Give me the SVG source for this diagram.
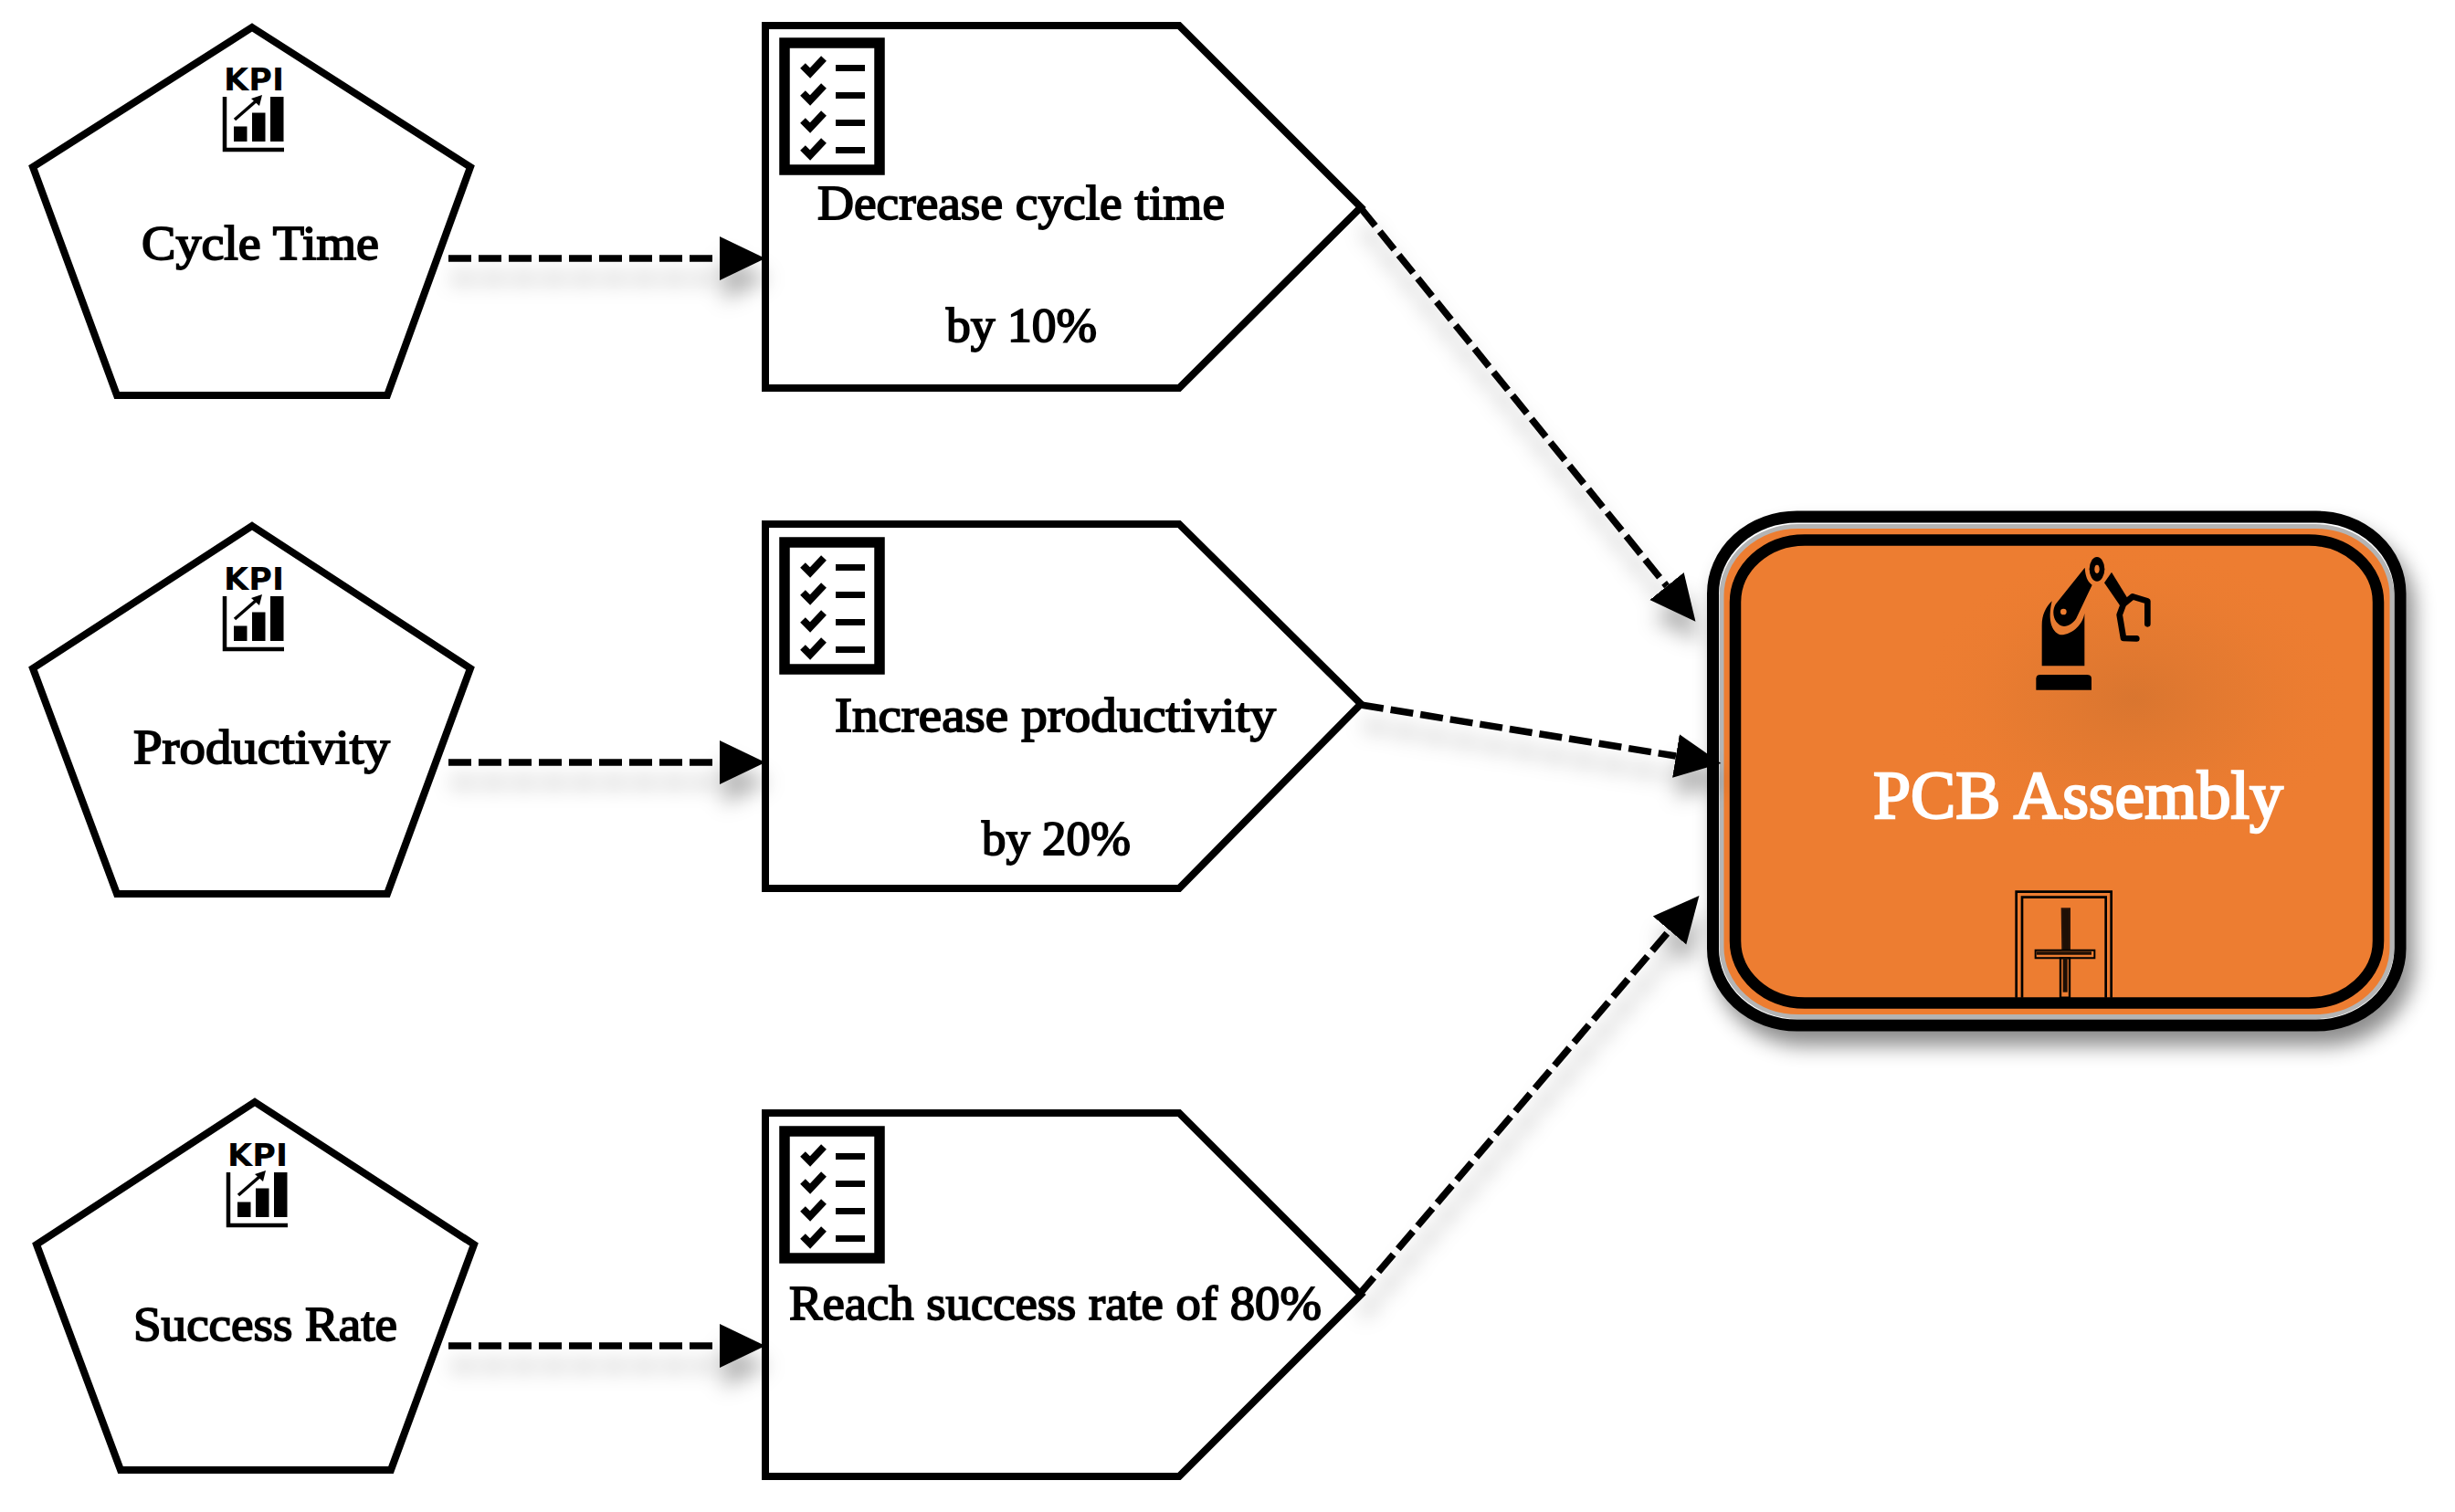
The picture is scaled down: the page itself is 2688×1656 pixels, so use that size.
<svg xmlns="http://www.w3.org/2000/svg" xmlns:xlink="http://www.w3.org/1999/xlink" width="2688" height="1656" viewBox="0 0 2688 1656">
<style>
.shape{fill:#fff;stroke:#000;stroke-width:8;stroke-miterlimit:10}
.lbl{font-family:"Liberation Serif","DejaVu Serif",serif;font-weight:400;font-size:53px;fill:#000;stroke:#000;stroke-width:1.800}
.kpi{font-family:"DejaVu Sans","Liberation Sans",sans-serif;font-weight:700;font-size:33px;fill:#000}
.conn{fill:none;stroke:#000;stroke-width:7.500;stroke-dasharray:25 8;marker-end:url(#head)}
</style>
<defs>
<marker id="head" markerUnits="userSpaceOnUse" markerWidth="52" markerHeight="50" refX="0" refY="25" orient="auto"><path d="M0 1L50 25L0 49Z" fill="#000"/></marker>
<filter id="cs" x="-20%" y="-20%" width="140%" height="140%" filterUnits="objectBoundingBox"><feDropShadow dx="4" dy="22" stdDeviation="11" flood-color="#000" flood-opacity=".3"/></filter>
<filter id="bs" x="-10%" y="-10%" width="120%" height="120%"><feDropShadow dx="9" dy="16" stdDeviation="11" flood-color="#000" flood-opacity=".45"/></filter>
<radialGradient id="glow"><stop offset="0" stop-color="#c96f2e" stop-opacity=".55"/><stop offset=".5" stop-color="#d5752f" stop-opacity=".3"/><stop offset="1" stop-color="#ED7D31" stop-opacity="0"/></radialGradient>
<g id="kpiIcon">
<text class="kpi" x="245" y="98.500" textLength="66" lengthAdjust="spacingAndGlyphs">KPI</text>
<path d="M246 106V164H311" fill="none" stroke="#000" stroke-width="4.500"/>
<path d="M256 138.500h14.500v16.500h-14.500zM276 123.500h14.500v31.500h-14.500zM296 106h14.500v49h-14.500z" fill="#000"/>
<path d="M257 131L281 110" fill="none" stroke="#000" stroke-width="3.500"/>
<path d="M287 104L284 116L275 108Z" fill="#000"/>
</g>
<g id="checkIcon">
<rect x="859" y="47" width="104" height="139" fill="#fff" stroke="#000" stroke-width="11.500"/>
<path d="M879 72l8 8 15-16M879 102l8 8 15-16M879 132l8 8 15-16M879 162l8 8 15-16" fill="none" stroke="#000" stroke-width="8"/>
<path d="M915 74.500h32M915 104.500h32M915 134.500h32M915 164.500h32" fill="none" stroke="#000" stroke-width="7"/>
</g>
</defs>
<rect width="2688" height="1656" fill="#fff"/>
<g id="kpi-cycle-time">
<polygon class="shape" points="276,30 515,183 424,433 128,433 36,183"/>
<use href="#kpiIcon"/>
<text class="lbl" x="155" y="284" textLength="260" lengthAdjust="spacingAndGlyphs">Cycle Time</text>
</g>
<g id="kpi-productivity">
<polygon class="shape" points="276,576 515,732 424,979 128,979 36,732"/>
<use href="#kpiIcon" y="547"/>
<text class="lbl" x="146" y="836" textLength="281" lengthAdjust="spacingAndGlyphs">Productivity</text>
</g>
<g id="kpi-success-rate">
<polygon class="shape" points="279,1207 519,1363 428,1610 132,1610 40,1363"/>
<use href="#kpiIcon" x="4" y="1178"/>
<text class="lbl" x="146" y="1468" textLength="289" lengthAdjust="spacingAndGlyphs">Success Rate</text>
</g>
<g id="goal-cycle-time">
<polygon class="shape" points="838,28 1291,28 1490,227 1291,425 838,425"/>
<use href="#checkIcon"/>
<text class="lbl" x="895" y="240" textLength="446" lengthAdjust="spacingAndGlyphs">Decrease cycle time</text>
<text class="lbl" x="1036" y="374" textLength="165" lengthAdjust="spacingAndGlyphs">by 10%</text>
</g>
<g id="goal-productivity">
<polygon class="shape" points="838,574 1291,574 1490,771 1291,973 838,973"/>
<use href="#checkIcon" y="547"/>
<text class="lbl" x="914" y="801" textLength="483" lengthAdjust="spacingAndGlyphs">Increase productivity</text>
<text class="lbl" x="1075" y="936" textLength="163" lengthAdjust="spacingAndGlyphs">by 20%</text>
</g>
<g id="goal-success-rate">
<polygon class="shape" points="838,1219 1291,1219 1490,1418 1291,1617 838,1617"/>
<use href="#checkIcon" y="1192"/>
<text class="lbl" x="864" y="1445" textLength="583" lengthAdjust="spacingAndGlyphs">Reach success rate of 80%</text>
</g>
<g id="pcb-assembly">
<g filter="url(#bs)">
<rect x="1875.500" y="566" width="752.500" height="557" rx="92" ry="84" fill="#fff" stroke="#000" stroke-width="13"/>
</g>
<rect x="1885" y="576.500" width="734" height="537" rx="84" ry="76" fill="#ED7D31" stroke="#b4b4b4" stroke-width="5"/>
<ellipse cx="2337" cy="765" rx="240" ry="170" fill="url(#glow)"/>
<rect x="1900" y="591.500" width="704" height="507" rx="76" ry="68" fill="none" stroke="#000" stroke-width="12.500"/>
<g transform="translate(2190 590) scale(.33333)" fill="#000">
<path d="M118 460Q118 447 132 447H285Q300 447 300 460V497H118Z"/>
<path d="M137 418H277V245C270 290 225 320 195 315C170 305 155 270 170 205C150 225 137 250 137 285Z"/>
<path d="M278 95L182 215C165 245 180 285 210 288C225 288 240 278 250 262L302 152C285 140 280 120 278 95Z"/>
<circle cx="208" cy="240" r="10" fill="#ED7D31"/>
<ellipse cx="318" cy="100" rx="25" ry="40"/>
<ellipse cx="318" cy="100" rx="8" ry="14" fill="#ED7D31"/>
<path d="M366 110L342 145L395 222L418 195Z"/>
<path d="M405 215L435 190L484 205L484 280M405 215L392 250L405 327L448 328" fill="none" stroke="#000" stroke-width="20" stroke-linecap="round" stroke-linejoin="round"/>
</g>
<g transform="translate(2190 960) scale(.33333)" fill="none" stroke="#000">
<path d="M53 398V50H365V398" stroke-width="8"/>
<path d="M72 398V68H347V398" stroke-width="8"/>
<path d="M203 106H228V245H205Z" fill="#1e0f05" stroke="#2a1408" stroke-width="6"/>
<path d="M116 242H310V268H116Z" fill="#ED7D31" stroke-width="6"/>
<path d="M120 252H300" stroke="#1e0f05" stroke-width="10"/>
<path d="M198 268H228V398H198Z" fill="#ED7D31" stroke-width="7"/>
<path d="M206 268H221V380H206Z" fill="#1e0f05" stroke="none"/>
</g>
<text x="2051" y="896" textLength="449" lengthAdjust="spacingAndGlyphs" style="font-family:'Liberation Serif','DejaVu Serif',serif;font-weight:400;font-size:74px;fill:#fff;stroke:#fff;stroke-width:2.400">PCB Assembly</text>
</g>
<g id="connectors" filter="url(#cs)">
<path class="conn" d="M491 283H788"/>
<path class="conn" d="M491 835H788"/>
<path class="conn" d="M491 1474H788"/>
<path class="conn" d="M1490 228L1825 642"/>
<path class="conn" d="M1490 772L1835 828"/>
<path class="conn" d="M1488 1418L1828 1019"/>
</g>
</svg>
